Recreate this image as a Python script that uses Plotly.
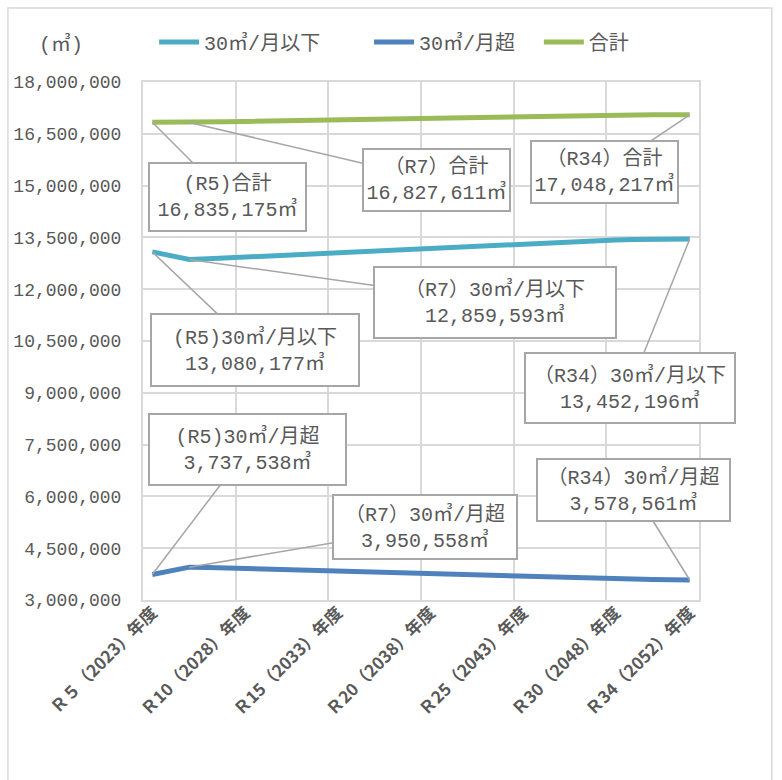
import plotly.graph_objects as go

# Fiscal years R5 (2023) .. R34 (2052)
years = [f"R{r}" for r in range(5, 35)]
tick_index = [0, 5, 10, 15, 20, 25, 29]
tick_text = ["Ｒ５（2023）年度", "Ｒ10（2028）年度", "Ｒ15（2033）年度", "Ｒ20（2038）年度",
             "Ｒ25（2043）年度", "Ｒ30（2048）年度", "Ｒ34（2052）年度"]

series_names = ["30㎥/月以下", "30㎥/月超", "合計"]

# Annual volume (㎥)
under_30 = [13080177, 12968000, 12859593, 12880000, 12905000, 12928000, 12955000, 12985000,
            13012000, 13040000, 13068000, 13095000, 13122000, 13148000, 13172000, 13196000,
            13222000, 13248000, 13274000, 13300000, 13326000, 13352000, 13376000, 13398000,
            13415000, 13428000, 13437000, 13444000, 13449000, 13452196]
over_30 = [3737538, 3846000, 3950558, 3940000, 3925000, 3912000, 3895000, 3878000,
           3862000, 3846000, 3828000, 3810000, 3792000, 3774000, 3756000, 3738000,
           3723000, 3709000, 3695000, 3681000, 3668000, 3655000, 3642000, 3630000,
           3619000, 3609000, 3600000, 3592000, 3585000, 3578561]
total = [16835175, 16831460, 16827611, 16837460, 16847460, 16857460, 16867460, 16880460,
         16891460, 16903460, 16913460, 16922460, 16931460, 16939460, 16945460, 16951460,
         16962460, 16974460, 16986460, 16998460, 17011460, 17024460, 17035460, 17045460,
         17051460, 17054460, 17054460, 17053460, 17051460, 17048217]

colors = ["#4BACC6", "#4F81BD", "#9BBB59"]
TEXT = "#595959"
GRID = "#D9D9D9"
LEADER = "#A6A6A6"
FONT = "Liberation Mono, Noto Sans CJK JP"

# one legend per series so each entry sits at its own spot along the top
legend_ids = ["legend", "legend2", "legend3"]
legend_x = [0.02, 0.4065, 0.712]

x = list(range(len(years)))
fig = go.Figure()
for name, vals, col, lg in zip(series_names, [under_30, over_30, total], colors, legend_ids):
    fig.add_trace(go.Scatter(x=x, y=vals, name=name, mode="lines", legend=lg,
                             line=dict(color=col, width=5)))

# vertical grid every 5 fiscal years, on category boundaries
bounds = [i - 0.5 for i in range(0, len(years) + 1, 5)]
xr = [-0.5, len(years) - 0.5]

legend_style = dict(orientation="h", y=1.077, xanchor="left", yanchor="middle",
                    font=dict(size=20, color=TEXT), itemwidth=40,
                    bgcolor="rgba(0,0,0,0)")

fig.update_layout(
    width=782, height=780,
    margin=dict(l=143, r=83, t=82, b=180),
    paper_bgcolor="white", plot_bgcolor="white",
    font=dict(family=FONT, size=18, color=TEXT),
    showlegend=True,
    xaxis=dict(range=xr, tickmode="array", tickvals=tick_index, ticktext=tick_text,
               tickangle=-45, showgrid=False, zeroline=False,
               showline=True, linecolor=GRID, linewidth=2, mirror=True,
               ticklabelstandoff=-6,
               tickfont=dict(family="Noto Sans CJK JP", size=17, color=TEXT, weight="bold")),
    xaxis2=dict(range=xr, overlaying="x", matches="x", tickmode="array", tickvals=bounds,
                showgrid=True, gridcolor=GRID, gridwidth=2, showticklabels=False,
                zeroline=False, side="bottom"),
    yaxis=dict(range=[3000000, 18000000], dtick=1500000, tick0=3000000, tickformat=",d",
               showgrid=True, gridcolor=GRID, gridwidth=2, zeroline=False,
               showline=True, linecolor=GRID, linewidth=2, mirror=True,
               ticklabelstandoff=16, tickfont=dict(family=FONT, size=18, color=TEXT)),
)
for lg, lx in zip(legend_ids, legend_x):
    fig.update_layout({lg: dict(legend_style, x=lx)})

# empty trace so the grid axis is rendered
fig.add_trace(go.Scatter(x=[], y=[], xaxis="x2", showlegend=False, hoverinfo="skip"))

# unit caption
fig.add_annotation(text="(㎥)", xref="paper", yref="paper", x=-0.148, y=1.073,
                   xanchor="center", yanchor="middle",
                   showarrow=False, font=dict(size=20, color=TEXT))

# outer chart frame
fig.add_shape(type="rect", xref="paper", yref="paper", x0=-0.243, x1=1.131, y0=-0.37, y1=1.143,
              line=dict(color=GRID, width=1.5), fillcolor="rgba(0,0,0,0)", layer="below")

# value callouts: (series, index, prefix, box offset px, box size px)
callouts = [
    (2, 0, "(R5)", 75, 75, 159, 70),
    (2, 2, "（R7）", 247, 58, 149, 64),
    (2, 29, "（R34）", -85, 57, 149, 64),
    (0, 0, "(R5)", 103, 98, 210, 74),
    (0, 2, "（R7）", 306, 43, 244, 73),
    (0, 29, "（R34）", -60, 149, 212, 72),
    (1, 0, "(R5)", 95, -125, 199, 73),
    (1, 2, "（R7）", 236, -40, 186, 66),
    (1, 29, "（R34）", -56, -90, 195, 64),
]
data = [under_30, over_30, total]
for s, i, prefix, ax, ay, w, h in callouts:
    v = data[s][i]
    fig.add_annotation(
        x=x[i], y=v, xref="x", yref="y",
        text=f"{prefix}{series_names[s]}<br>{v:,}㎥",
        showarrow=True, arrowhead=0, arrowwidth=1.5, arrowcolor=LEADER,
        ax=ax, ay=ay, standoff=0,
        bgcolor="white", bordercolor=LEADER, borderwidth=2, borderpad=0,
        width=w - 4, height=h - 4, align="center",
        font=dict(family=FONT, size=20, color=TEXT),
    )

fig.write_html("out.html")
